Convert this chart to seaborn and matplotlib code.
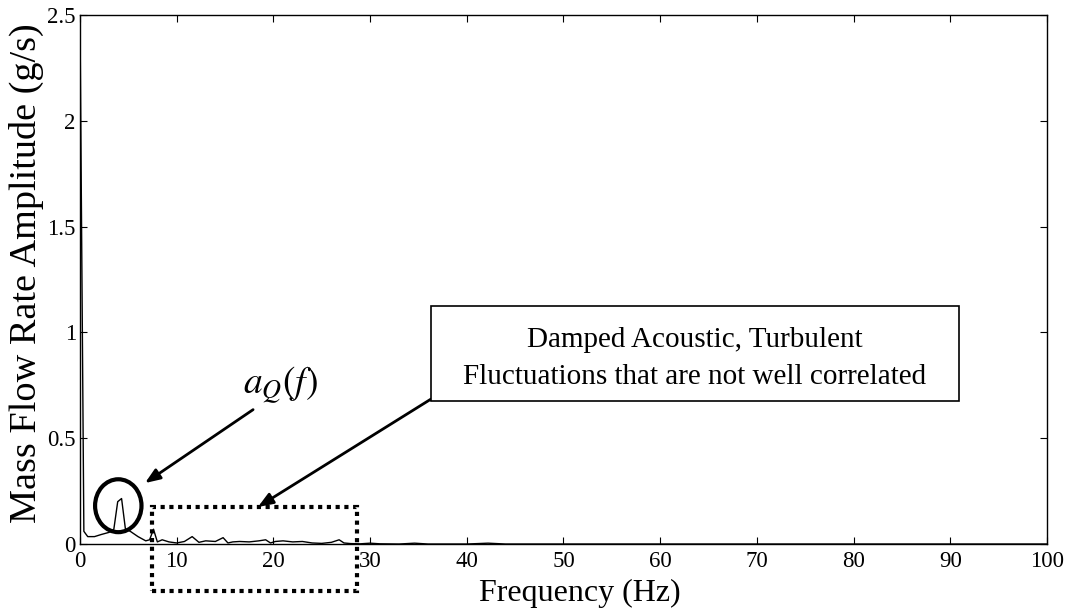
import matplotlib
matplotlib.use("Agg")
import matplotlib.pyplot as plt
from matplotlib.patches import Ellipse, Rectangle
import seaborn as sns
import pandas as pd

# ---- data ----
freq_hz = [0.0, 0.4, 0.8, 1.5, 2.2, 3.0, 3.5, 3.9, 4.3, 4.7, 5.2, 6.0, 6.8, 7.2,
           7.6, 8.0, 8.5, 9.2, 10.0, 10.8, 11.6, 12.3, 13.0, 14.0, 14.8, 15.3,
           15.8, 16.5, 17.5, 18.5, 19.2, 19.7, 20.2, 21.0, 22.0, 23.0, 24.0,
           25.0, 26.0, 26.8, 27.3, 28.0, 29.0, 30.0, 31.0, 33.0, 34.6, 36.0,
           40.0, 42.2, 44.0, 50.0, 60.0, 70.0, 80.0, 90.0, 100.0]
amplitude = [2.49, 0.06, 0.035, 0.035, 0.045, 0.055, 0.07, 0.20, 0.215, 0.07,
             0.06, 0.035, 0.015, 0.02, 0.07, 0.01, 0.02, 0.01, 0.005, 0.012,
             0.035, 0.008, 0.015, 0.012, 0.03, 0.005, 0.01, 0.012, 0.01, 0.015,
             0.02, 0.005, 0.012, 0.015, 0.01, 0.012, 0.005, 0.003, 0.008, 0.02,
             0.005, 0.002, 0.001, 0.004, 0.001, 0.0, 0.004, 0.0, 0.0, 0.004,
             0.0, 0.0, 0.0, 0.0, 0.0, 0.0, 0.0]
x_ticks = [0, 10, 20, 30, 40, 50, 60, 70, 80, 90, 100]
y_ticks = [0, 0.5, 1, 1.5, 2, 2.5]
y_tick_labels = ["0", "0.5", "1", "1.5", "2", "2.5"]
box_text = "Damped Acoustic, Turbulent\nFluctuations that are not well correlated"
peak_label = r"$a_Q(f)$"

sns.set_style("ticks")
plt.rcParams["font.family"] = ["Liberation Serif", "DejaVu Serif"]
plt.rcParams["mathtext.fontset"] = "stix"
plt.rcParams["text.color"] = "black"
plt.rcParams["axes.labelcolor"] = "black"

fig = plt.figure(figsize=(10.68, 6.09), dpi=100)
ax = fig.add_axes([0.0749, 0.1067, 0.9054, 0.8687])

df = pd.DataFrame({"Frequency": freq_hz, "Amplitude": amplitude})
sns.lineplot(data=df, x="Frequency", y="Amplitude", ax=ax, color="black",
             linewidth=1.0, estimator=None, sort=False)

ax.set_xlim(0, 100)
ax.set_ylim(0, 2.5)
ax.set_xticks(x_ticks)
ax.set_xticklabels([str(t) for t in x_ticks])
ax.set_yticks(y_ticks)
ax.set_yticklabels(y_tick_labels)
ax.tick_params(direction="in", length=5, width=0.8, labelsize=16.5, colors="black",
               top=True, right=True)
ax.tick_params(axis="x", pad=5)
ax.tick_params(axis="y", pad=3)
for s in ax.spines.values():
    s.set_visible(True)
    s.set_linewidth(1.0)
    s.set_color("black")

ax.set_xlabel("Frequency (Hz)", fontsize=23, color="black")
ax.xaxis.set_label_coords(0.517, -0.065, transform=ax.transAxes)
ax.set_ylabel("Mass Flow Rate Amplitude (g/s)", fontsize=27.5, color="black")
ax.yaxis.set_label_coords(-0.037, 0.512, transform=ax.transAxes)

# circle around peak
ax.add_patch(Ellipse((3.96, 0.181), width=4.8, height=0.25, fill=False,
                     edgecolor="black", linewidth=3.0, clip_on=False))
# dotted rectangle
ax.add_patch(Rectangle((7.45, -0.222), 21.15, 0.397, fill=False,
                       edgecolor="black", linewidth=3.0, linestyle=(0, (1, 1.1)),
                       clip_on=False))

# arrow to circle + label
ax.text(20.7, 0.755, peak_label, fontsize=27, ha="center", va="center",
        color="black")
ax.annotate("", xy=(6.72, 0.288), xytext=(17.9, 0.635),
            arrowprops=dict(arrowstyle="-|>,head_length=0.9,head_width=0.35",
                            color="black", lw=2.0, shrinkA=0, shrinkB=0))

# text box + arrow
ax.annotate("", xy=(18.4, 0.175), xytext=(36.3, 0.685),
            arrowprops=dict(arrowstyle="-|>,head_length=0.9,head_width=0.35",
                            color="black", lw=2.0, shrinkA=0, shrinkB=0))
ax.add_patch(Rectangle((36.3, 0.676), 54.6, 0.448, fill=True, facecolor="white",
                       edgecolor="black", linewidth=1.2, zorder=5))
ax.text(63.6, 0.879, box_text, fontsize=21, ha="center", va="center",
        linespacing=1.55, zorder=6, color="black")

fig.savefig("out.png", dpi=100)
